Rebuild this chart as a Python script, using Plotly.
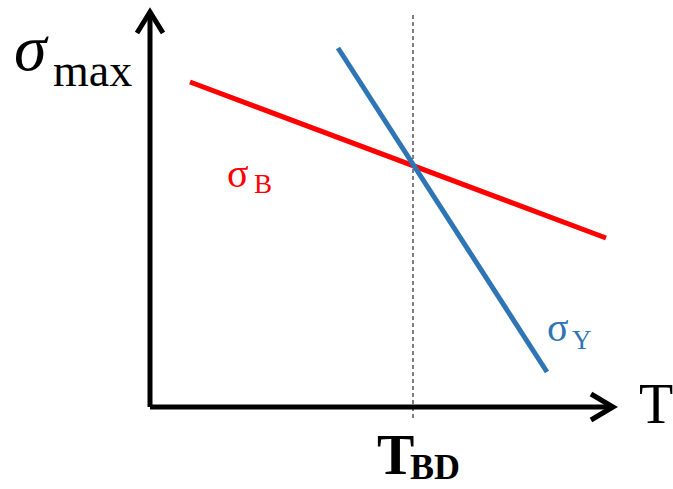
import plotly.graph_objects as go

# Data (chart units, origin at the axes corner)
red_T = [40, 456]
red_sigma = [325, 169]
blue_T = [188, 397]
blue_sigma = [359, 35]
T_BD = 263
dash_span = [-11, 392]

# axis arrows
y_axis_T = [0, 0]
y_axis_s = [0, 395]
y_head_T = [-13, 0, 13]
y_head_s = [374, 395, 374]
x_axis_T = [0, 462]
x_axis_s = [0, 0]
x_head_T = [441, 463, 441]
x_head_s = [13, 0, -13]

RED = "#FF0000"
BLUE = "#2E75B6"
SERIF = "Liberation Serif, Times New Roman, serif"

fig = go.Figure()
fig.add_trace(go.Scatter(x=[T_BD, T_BD], y=dash_span, mode="lines",
                         line=dict(color="black", width=1, dash="4px,3px")))
fig.add_trace(go.Scatter(x=y_axis_T, y=y_axis_s, mode="lines", line=dict(color="black", width=5)))
fig.add_trace(go.Scatter(x=y_head_T, y=y_head_s, mode="lines", line=dict(color="black", width=5)))
fig.add_trace(go.Scatter(x=x_axis_T, y=x_axis_s, mode="lines", line=dict(color="black", width=5)))
fig.add_trace(go.Scatter(x=x_head_T, y=x_head_s, mode="lines", line=dict(color="black", width=5)))
fig.add_trace(go.Scatter(x=red_T, y=red_sigma, mode="lines", line=dict(color=RED, width=5)))
fig.add_trace(go.Scatter(x=blue_T, y=blue_sigma, mode="lines", line=dict(color=BLUE, width=5)))

def txt(x, y, s, size, color="black", bold=False, italic=False, anchor="left"):
    if bold:
        s = "<b>" + s + "</b>"
    if italic:
        s = "<i>" + s + "</i>"
    fig.add_annotation(x=x, y=y, xref="paper", yref="paper", text=s, showarrow=False,
                       xanchor=anchor, yanchor="middle",
                       font=dict(family=SERIF, size=size, color=color))

W, H = 673, 489
def P(px, py):
    return px / W, 1 - py / H

x, y = P(12, 48); txt(x, y, "σ", 66, italic=True)
x, y = P(51, 70); txt(x, y, "max", 46)
x, y = P(656, 404); txt(x, y, "T", 56, anchor="center")
x, y = P(375, 455); txt(x, y, "T", 56, bold=True)
x, y = P(408, 467); txt(x, y, "BD", 36, bold=True)
x, y = P(225, 173); txt(x, y, "σ", 40, color=RED)
x, y = P(252, 184); txt(x, y, "B", 27, color=RED)
x, y = P(545, 327); txt(x, y, "σ", 40, color=BLUE)
x, y = P(570, 340); txt(x, y, "Y", 27, color=BLUE)

fig.update_layout(
    width=W, height=H, margin=dict(l=0, r=0, t=0, b=0),
    paper_bgcolor="white", plot_bgcolor="white", showlegend=False,
    xaxis=dict(range=[-150, 523], visible=False, fixedrange=True),
    yaxis=dict(range=[-82, 407], visible=False, fixedrange=True),
)
fig.write_html("out.html")
